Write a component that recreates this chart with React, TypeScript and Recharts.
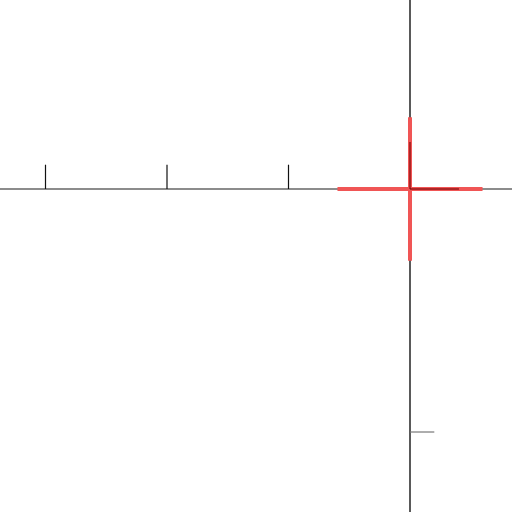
import React from 'react';
import { ScatterChart, Scatter, XAxis, YAxis, ReferenceLine, ErrorBar } from 'recharts';

// tick values on each axis
const xTicks = [-3, -2, -1];
const yTicks = [-2];

// the one measured point, with its errors in x and y
const points = [{ x: 0, y: 0, ex: 0.597, ey: 0.59 }];

// short dark stubs from the point along each axis
const stubX = [0, 0.403];
const stubY = [0, 0.387];

const X_DOMAIN = [-3.3745, 0.8395];
const Y_DOMAIN = [-2.6584, 1.5556];
const TICK_LEN = 0.2;

export default function App() {
  return (
    <div style={{ position: 'absolute', left: 0, top: 0, width: 512, height: 512, background: '#fff' }}>
      <ScatterChart width={512} height={512} margin={{ top: 0, right: 0, bottom: 0, left: 0 }}>
        <XAxis type="number" dataKey="x" domain={X_DOMAIN} allowDataOverflow hide />
        <YAxis type="number" dataKey="y" domain={Y_DOMAIN} allowDataOverflow hide />
        <ReferenceLine y={0} stroke="#666" strokeWidth={1.5} />
        <ReferenceLine x={0} stroke="#000" strokeWidth={1.3} />
        {xTicks.map((t) => (
          <ReferenceLine key={`xt-${t}`} segment={[{ x: t, y: 0 }, { x: t, y: TICK_LEN }]} stroke="#111" strokeWidth={1.2} />
        ))}
        {yTicks.map((t) => (
          <ReferenceLine key={`yt-${t}`} segment={[{ x: 0, y: t }, { x: TICK_LEN, y: t }]} stroke="#777" strokeWidth={1.2} />
        ))}
        <Scatter data={points} isAnimationActive={false} shape={() => <g />}>
          <ErrorBar dataKey="ex" direction="x" width={0} stroke="rgb(240,85,85)" strokeWidth={4} isAnimationActive={false} />
          <ErrorBar dataKey="ey" direction="y" width={0} stroke="rgb(240,85,85)" strokeWidth={4} isAnimationActive={false} />
        </Scatter>
        <ReferenceLine segment={[{ x: stubX[0], y: 0 }, { x: stubX[1], y: 0 }]} stroke="rgba(120,0,0,0.55)" strokeWidth={2} />
        <ReferenceLine segment={[{ x: 0, y: stubY[0] }, { x: 0, y: stubY[1] }]} stroke="rgba(120,0,0,0.55)" strokeWidth={2} />
      </ScatterChart>
    </div>
  );
}
